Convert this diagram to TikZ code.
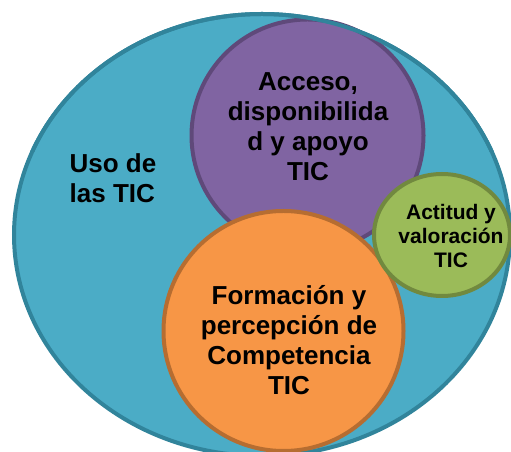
\documentclass[tikz,border=0pt]{standalone}
\usepackage{fontspec}
\setmainfont{Liberation Sans}
\definecolor{tealF}{HTML}{4BACC6}
\definecolor{tealD}{HTML}{31849B}
\definecolor{purF}{HTML}{8064A2}
\definecolor{purD}{HTML}{5F497A}
\definecolor{oraF}{HTML}{F79646}
\definecolor{oraD}{HTML}{B66D31}
\definecolor{grnF}{HTML}{9BBB59}
\definecolor{grnD}{HTML}{71893F}
\tikzset{
  shp/.style={line width=4pt},
  lbl/.style={align=center,font=\bfseries\fontsize{26}{30}\selectfont,text=black,inner sep=0pt},
  lbls/.style={align=center,font=\bfseries\fontsize{21}{24}\selectfont,text=black,inner sep=0pt}
}
\begin{document}
\begin{tikzpicture}[x=1pt,y=1pt]
\useasboundingbox (0,0) rectangle (511,452);
\filldraw[shp,fill=tealF,draw=tealD] (262,217) ellipse [x radius=248,y radius=221];
\filldraw[shp,fill=purF,draw=purD] (307.5,316.5) circle [radius=116];
\begin{scope}
\clip (0,300) rectangle (511,452);
\draw[shp,draw=tealD] (262,217) ellipse [x radius=248,y radius=221];
\end{scope}
\filldraw[shp,fill=oraF,draw=oraD] (283.5,121) circle [radius=120];
\filldraw[shp,fill=grnF,draw=grnD] (442,217) ellipse [x radius=68,y radius=61];
\node[lbl,align=left] (uso) at (113,274) {Uso de\\las TIC};
\node[lbl] (acc) at (308,325) {Acceso,\\disponibilida\\d y apoyo\\TIC};
\node[lbl] (for) at (289,112) {Formación y\\percepción de\\Competencia\\TIC};
\node[lbls] (act) at (451,216) {Actitud y\\valoración\\TIC};
\end{tikzpicture}
\end{document}
